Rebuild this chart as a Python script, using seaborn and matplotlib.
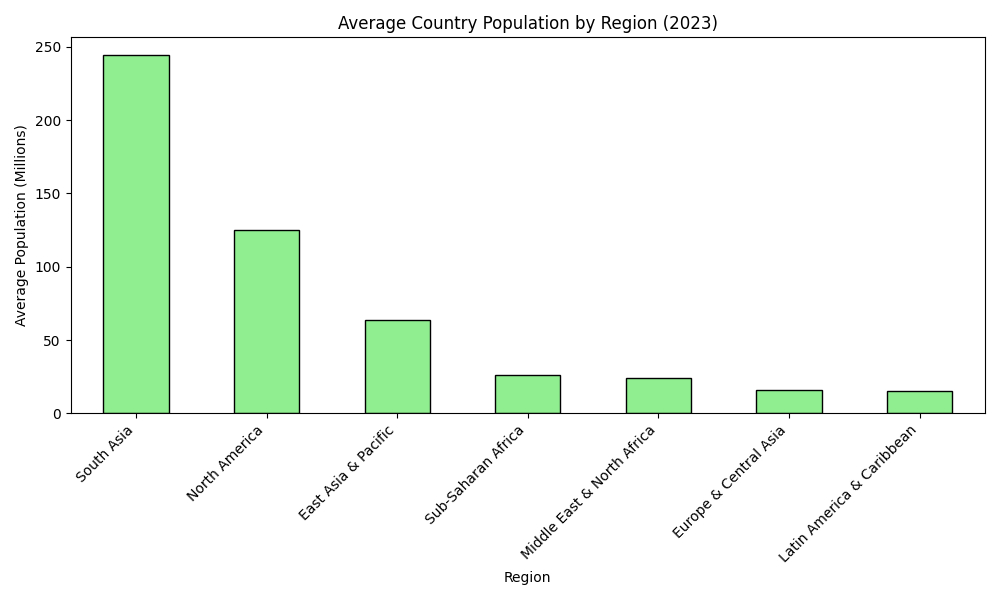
import matplotlib
matplotlib.use("Agg")
import matplotlib.pyplot as plt
import seaborn as sns
import pandas as pd

regions = ["South Asia", "North America", "East Asia & Pacific", "Sub-Saharan Africa",
           "Middle East & North Africa", "Europe & Central Asia", "Latin America & Caribbean"]
values = [244.3, 124.8, 63.5, 26.2, 24.0, 15.8, 15.2]

df = pd.DataFrame({"Region": regions, "Pop": values})
fig, ax = plt.subplots(figsize=(10, 6), dpi=100)
sns.barplot(data=df, x="Region", y="Pop", color="lightgreen", edgecolor="black",
            linewidth=1, width=0.5, saturation=1, ax=ax)
ax.set_title("Average Country Population by Region (2023)")
ax.set_xlabel("Region")
ax.set_ylabel("Average Population (Millions)")
plt.setp(ax.get_xticklabels(), rotation=45, ha="right")
ax.set_xlim(-0.5, len(regions) - 0.5)
fig.tight_layout()
fig.savefig("out.png")
